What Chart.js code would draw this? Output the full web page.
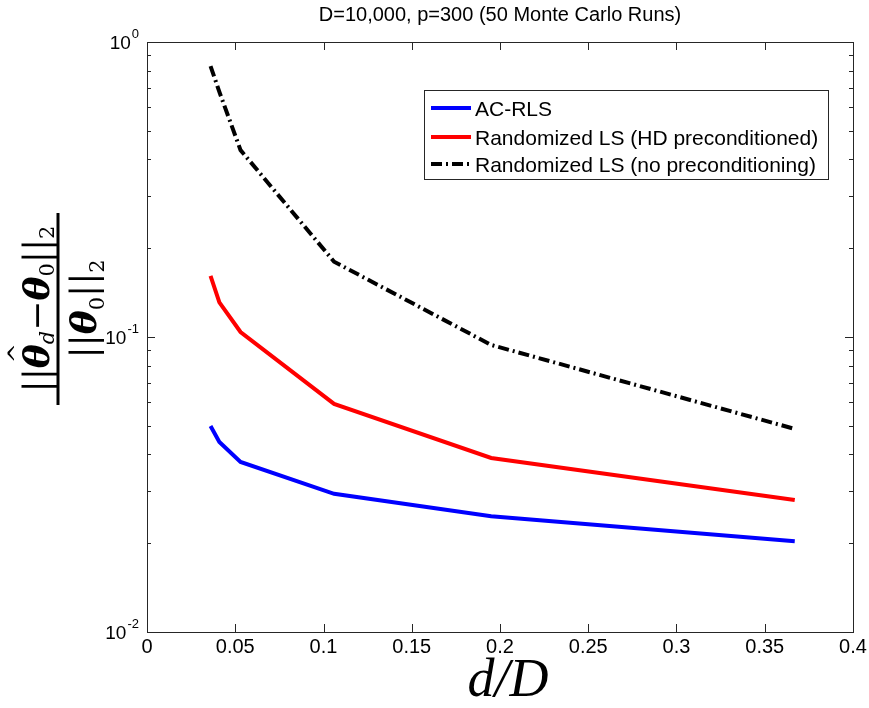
<!DOCTYPE html>
<html>
<head>
<meta charset="utf-8">
<title>D=10,000, p=300 (50 Monte Carlo Runs)</title>
<script src="https://cdn.jsdelivr.net/npm/chart.js@4.4.1/dist/chart.umd.min.js"></script>
<style>
  html, body { margin: 0; padding: 0; background: #fff; }
  #wrap { width: 869px; height: 708px; }
</style>
</head>
<body>
<div id="wrap"><canvas id="errChart" width="869" height="708"></canvas></div>
<script>
// d/D values used for the runs
const ratios = [0.036, 0.041, 0.053, 0.106, 0.195, 0.367];

// relative error, one array per method
const acRls = [0.0499, 0.0441, 0.0377, 0.0294, 0.0247, 0.0203];
const hdPrecond = [0.161, 0.131, 0.104, 0.0593, 0.0389, 0.028];
const noPrecond = [0.829, 0.677, 0.43, 0.18, 0.094, 0.0488];

const xTicks = [0, 0.05, 0.1, 0.15, 0.2, 0.25, 0.3, 0.35, 0.4];
const yTickExp = [0, -1, -2];
const seriesNames = ['AC-RLS', 'Randomized LS (HD preconditioned)', 'Randomized LS (no preconditioning)'];

function toPoints(vals) {
    return ratios.map((r, i) => ({ x: r, y: vals[i] }));
}

const SANS = '"Liberation Sans", Arial, sans-serif';

// frame, inward ticks, labels, legend -- drawn like the MATLAB figure
const matlabFrame = {
    id: 'matlabFrame',
    afterDraw(chart) {
        const ctx = chart.ctx;
        const a = chart.chartArea;
        const xs = chart.scales.x, ys = chart.scales.y;
        ctx.save();

        // box
        ctx.strokeStyle = '#262626';
        ctx.lineWidth = 1;
        ctx.strokeRect(a.left + 0.5, a.top + 0.5, a.right - a.left, a.bottom - a.top);

        // x ticks top and bottom
        ctx.beginPath();
        xTicks.forEach(t => {
            const px = Math.round(xs.getPixelForValue(t)) + 0.5;
            ctx.moveTo(px, a.bottom); ctx.lineTo(px, a.bottom - 8);
            ctx.moveTo(px, a.top); ctx.lineTo(px, a.top + 8);
        });
        // y ticks, major and minor
        for (let e = -2; e <= 0; e++) {
            for (let m = 1; m <= 9; m++) {
                const v = m * Math.pow(10, e);
                if (v > 1 || (e === 0 && m > 1)) continue;
                const py = Math.round(ys.getPixelForValue(v)) + 0.5;
                const len = m === 1 ? 8 : 4;
                ctx.moveTo(a.left, py); ctx.lineTo(a.left + len, py);
                ctx.moveTo(a.right, py); ctx.lineTo(a.right - len, py);
            }
        }
        ctx.stroke();

        // tick labels
        ctx.fillStyle = '#000';
        ctx.font = '20px ' + SANS;
        ctx.textAlign = 'center';
        ctx.textBaseline = 'alphabetic';
        xTicks.forEach(t => {
            ctx.fillText(String(t), xs.getPixelForValue(t), a.bottom + 21);
        });
        yTickExp.forEach(e => {
            const py = ys.getPixelForValue(Math.pow(10, e));
            const sup = String(e);
            ctx.textAlign = 'right';
            ctx.font = '13px ' + SANS;
            const supW = ctx.measureText(sup).width;
            ctx.fillText(sup, a.left - 8, py - 4);
            ctx.font = '19px ' + SANS;
            ctx.fillText('10', a.left - 9 - supW, py + 7);
        });

        // title
        ctx.font = '20px ' + SANS;
        ctx.textAlign = 'center';
        ctx.textBaseline = 'middle';
        ctx.fillText('D=10,000, p=300 (50 Monte Carlo Runs)', (a.left + a.right) / 2, 15);

        // x axis title
        ctx.font = 'italic 54px "Liberation Serif", "DejaVu Serif", serif';
        ctx.textBaseline = 'alphabetic';
        ctx.fillText('d/D', 508, 696);

        // y axis title: fraction, rotated
        ctx.save();
        ctx.translate(58, 309);
        ctx.rotate(-Math.PI / 2);
        ctx.lineWidth = 3;
        ctx.strokeStyle = '#000';
        ctx.beginPath();
        ctx.moveTo(-96, 0); ctx.lineTo(96, 0);
        ctx.stroke();
        const big = 'bold italic 36px "DejaVu Serif", serif';
        const norm = '36px "DejaVu Serif", serif';
        const small = 'italic 21px "DejaVu Serif", serif';
        const smallUp = '21px "DejaVu Serif", serif';
        function run(parts, y) {
            let w = 0;
            parts.forEach(p => { ctx.font = p[1]; w += ctx.measureText(p[0]).width; });
            let x = -w / 2;
            ctx.textAlign = 'left';
            parts.forEach(p => {
                ctx.font = p[1];
                ctx.fillText(p[0], x, y + (p[2] || 0));
                x += ctx.measureText(p[0]).width;
            });
            return -w / 2;
        }
        ctx.textBaseline = 'alphabetic';
        const x0 = run([['||', norm], ['θ', big], ['d', small, 5], ['−', norm], ['θ', big], ['0', smallUp, 5], ['||', norm], ['2', smallUp, 5]], -9);
        // hat over first theta
        ctx.font = norm;
        const barW = ctx.measureText('||').width;
        ctx.font = big;
        const thW = ctx.measureText('θ').width;
        ctx.font = '24px "DejaVu Serif", serif';
        ctx.textAlign = 'center';
        ctx.fillText('^', x0 + barW + thW / 2 + 3, -33);
        run([['||', norm], ['θ', big], ['0', smallUp, 8], ['||', norm], ['2', smallUp, 8]], 38);
        ctx.restore();

        // legend
        const lx = 424, ly = 90, lw = 404, lh = 89;
        ctx.fillStyle = '#fff';
        ctx.fillRect(lx, ly, lw, lh);
        ctx.strokeStyle = '#262626';
        ctx.lineWidth = 1;
        ctx.strokeRect(lx + 0.5, ly + 0.5, lw, lh);
        const rows = [108, 137, 164];
        chart.data.datasets.forEach((ds, i) => {
            ctx.strokeStyle = ds.borderColor;
            ctx.lineWidth = ds.borderWidth;
            ctx.setLineDash(ds.borderDash || []);
            ctx.beginPath();
            ctx.moveTo(431, rows[i]); ctx.lineTo(471, rows[i]);
            ctx.stroke();
            ctx.setLineDash([]);
            ctx.fillStyle = '#000';
            ctx.font = '21px ' + SANS;
            ctx.textAlign = 'left';
            ctx.textBaseline = 'middle';
            ctx.fillText(ds.label, 475, rows[i] + 2);
        });
        ctx.restore();
    }
};

const ctx = document.getElementById('errChart').getContext('2d');
new Chart(ctx, {
    type: 'line',
    data: {
        datasets: [{
            label: seriesNames[0],
            data: toPoints(acRls),
            borderColor: '#0000ff',
            borderWidth: 4,
            pointRadius: 0,
            tension: 0
        }, {
            label: seriesNames[1],
            data: toPoints(hdPrecond),
            borderColor: '#ff0000',
            borderWidth: 4,
            pointRadius: 0,
            tension: 0
        }, {
            label: seriesNames[2],
            data: toPoints(noPrecond),
            borderColor: '#000000',
            borderWidth: 4,
            borderDash: [11, 4, 2, 4],
            pointRadius: 0,
            tension: 0
        }]
    },
    options: {
        responsive: false,
        animation: false,
        layout: { padding: { left: 0, top: 42, right: 16, bottom: 0 } },
        plugins: {
            legend: { display: false },
            title: { display: false },
            tooltip: { enabled: false }
        },
        scales: {
            x: {
                type: 'linear',
                min: 0,
                max: 0.4,
                grid: { display: false },
                border: { display: false },
                ticks: { display: false },
                afterFit: s => { s.height = 76; }
            },
            y: {
                type: 'logarithmic',
                min: 0.01,
                max: 1,
                grid: { display: false },
                border: { display: false },
                ticks: { display: false },
                afterFit: s => { s.width = 147; }
            }
        }
    },
    plugins: [matlabFrame]
});
</script>
</body>
</html>
